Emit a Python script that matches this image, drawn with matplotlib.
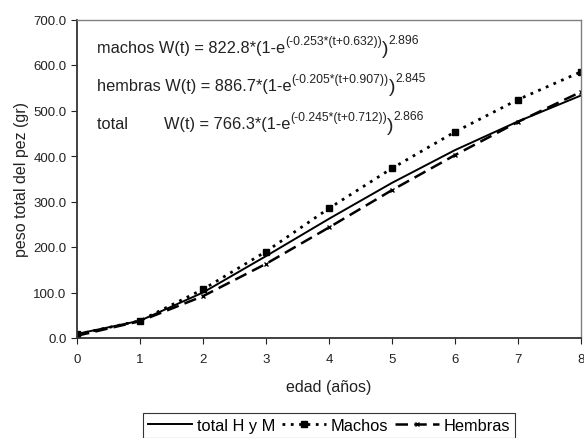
import numpy as np
import matplotlib
matplotlib.use("Agg")
import matplotlib.pyplot as plt
from matplotlib.ticker import FormatStrFormatter

plt.rcParams['font.family'] = ['Liberation Sans', 'DejaVu Sans']

# edad (años) y peso total (gr)
edad = [0, 1, 2, 3, 4, 5, 6, 7, 8]
total = [9, 38, 100, 180, 262, 341, 413, 476, 533]
machos = [8, 38, 107, 190, 285, 373, 453, 524, 585]
hembras = [5, 37, 92, 163, 243, 325, 402, 475, 541]

# ecuaciones: base, exponente interno, exponente final
ecuaciones = [
    ("machos W(t) = 822.8*(1-e", "(-0.253*(t+0.632))", "2.896"),
    ("hembras W(t) = 886.7*(1-e", "(-0.205*(t+0.907))", "2.845"),
    ("total        W(t) = 766.3*(1-e", "(-0.245*(t+0.712))", "2.866"),
]

fig = plt.figure(figsize=(5.84, 4.39), dpi=100)
ax = fig.add_axes([77 / 584, 1 - 339 / 439, 504 / 584, 318.5 / 439])

ax.plot(edad, total, color='black', lw=1.4, label='total H y M')
ax.plot(edad, machos, color='black', lw=2.0, ls=(0, (1, 2)),
        marker='s', ms=4, label='Machos')
ax.plot(edad, hembras, color='black', lw=1.8, ls=(0, (5, 2.5)),
        marker='x', ms=3, mew=1, label='Hembras')

ax.set_xlim(0, 8)
ax.set_ylim(0, 700)
ax.set_xticks(range(0, 9))
ax.set_yticks(range(0, 701, 100))
ax.yaxis.set_major_formatter(FormatStrFormatter('%.1f'))
ax.tick_params(direction='out', length=4, labelsize=9.5, colors='#222222')
ax.tick_params(axis='x', pad=7)
for s in ['left', 'bottom']:
    ax.spines[s].set_color('#333333')
    ax.spines[s].set_linewidth(1.3)
for s in ['top', 'right']:
    ax.spines[s].set_color('#808080')
    ax.spines[s].set_linewidth(1.0)

ax.set_xlabel('edad (años)', fontsize=11.5, color='#222222', labelpad=10)
ax.set_ylabel('peso total del pez (gr)', fontsize=11.5, color='#222222', labelpad=3)

for i, (base, sup1, sup2) in enumerate(ecuaciones):
    t1 = ax.text(0.04, 0.898 - i * 0.12, base, transform=ax.transAxes,
                 fontsize=11.8, color='#222222', va='baseline', ha='left')
    t2 = ax.annotate(sup1, xy=(1, 0.75), xycoords=t1, fontsize=8.8,
                     color='#222222', va='baseline', ha='left')
    t3 = ax.annotate(")", xy=(1, 0), xycoords=(t2, t1), xytext=(0, -1.5),
                     textcoords='offset points', fontsize=14,
                     color='#222222', va='bottom', ha='left')
    ax.annotate(sup2, xy=(1, 0.85), xycoords=t3, fontsize=8.8,
                color='#222222', va='baseline', ha='left')

leg = fig.legend(loc='upper center', bbox_to_anchor=(329 / 584, 1 - 414 / 439),
                 ncol=3, fontsize=11.8, frameon=True, fancybox=False,
                 edgecolor='black', handlelength=2.7, handletextpad=0.3,
                 columnspacing=0.4, borderpad=0.3, borderaxespad=0)
leg.get_frame().set_linewidth(0.8)

fig.savefig('out.png', dpi=100)
